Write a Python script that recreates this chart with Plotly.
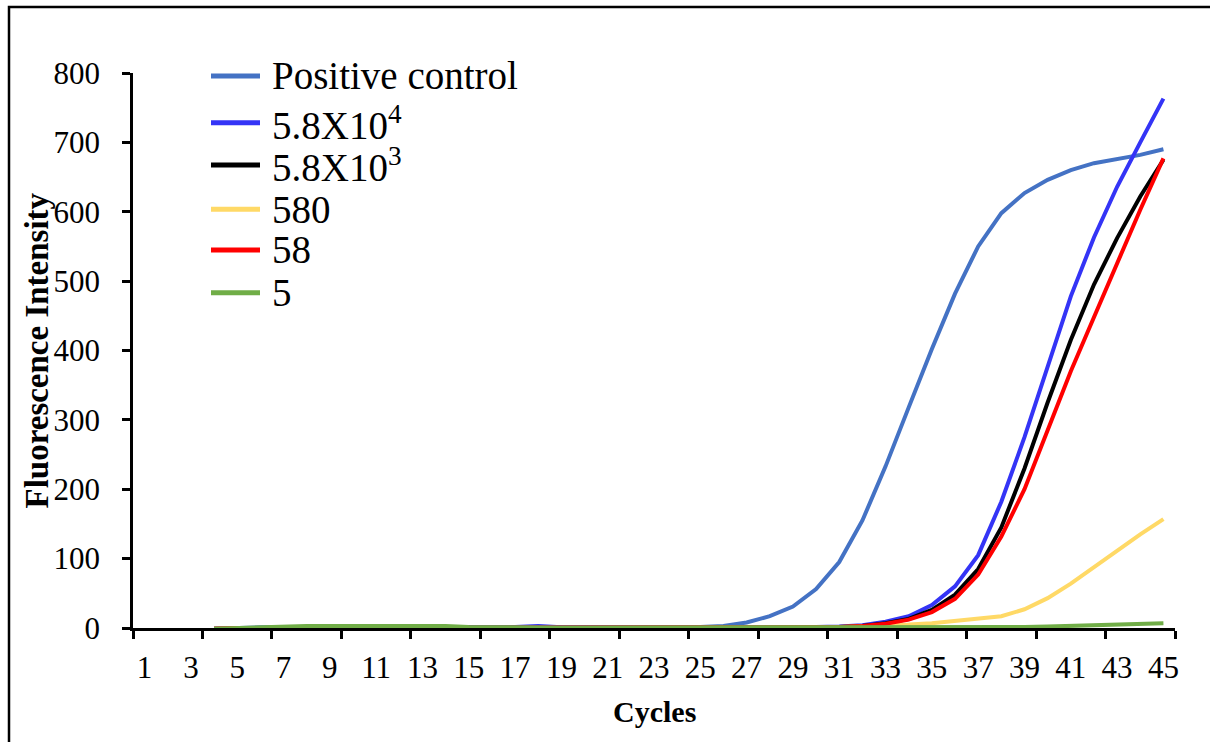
import plotly.graph_objects as go

# ---------------- data ----------------
cycles = list(range(4, 46))
tick_cycles = list(range(1, 46, 2))
series_names = ["Positive control", "5.8X10<sup>4</sup>", "5.8X10<sup>3</sup>", "580", "58", "5"]

positive_control = [-1, 0.5, 1, 1.5, 1.5, 1.5, 1.5, 1, 1, 1, 1, 0.5, 0.5, 0.5, 0.5, 0.5, 0.5, 0.5, 0.5, 0.5,
                    1, 1.5, 3, 8, 17, 31, 56, 95, 155, 233, 318, 402, 482, 550, 598, 627, 646, 660, 670, 676, 682, 690]
dilution_58e4 = [-1] + [0] * 11 + [1, 1.5, 3, 1] + [0.5] * 9 + \
                [1, 1.5, 2, 4, 9, 17, 33, 60, 105, 182, 275, 378, 478, 563, 636, 700, 763]
dilution_58e3 = [-1] + [0] * 24 + \
                [0.5, 1, 1.5, 3, 7, 13, 26, 48, 85, 145, 230, 325, 415, 495, 562, 622, 675]
dilution_580 = [-1] + [0] * 23 + \
               [0.5, 1, 1, 1.5, 2.5, 3.5, 5, 7, 10, 13, 17, 27, 43, 64, 88, 112, 135, 157]
dilution_58 = [-1] + [0] * 12 + [1, 1, 1, 0.5, 0.5, 1, 1] + [0.3] * 4 + \
              [1, 0.5, 1, 1.5, 3, 6, 12, 23, 42, 77, 132, 200, 284, 370, 448, 526, 603, 677]
dilution_5 = [-1, 0, 1.5, 3, 3, 3, 3, 3, 4, 3, 3, 1.5, 1] + [0.5] * 20 + \
             [0.5, 1, 1.5, 2, 3, 4, 5, 5.5, 7]

series_values = [positive_control, dilution_58e4, dilution_58e3, dilution_580, dilution_58, dilution_5]
series_colors = ["#4472C4", "#3434F6", "#000000", "#FFD966", "#FF0000", "#70AD47"]

# ---------------- geometry helpers ----------------
W, H = 1210, 742
L, R, T, B = 133, 35, 73, 114
PW, PH = W - L - R, H - T - B


def px(xp):
    return (xp - L) / PW


def py(yp):
    return (H - B - yp) / PH


FONT = "Liberation Serif"

fig = go.Figure()
for name, vals, col in zip(series_names, series_values, series_colors):
    fig.add_trace(go.Scatter(x=cycles, y=vals, mode="lines", name=name,
                             line=dict(color=col, width=4), showlegend=False,
                             hoverinfo="skip"))

# custom legend
legend_y = [76, 122.7, 165, 209.3, 250, 292.7]
shapes = []
annotations = []
for name, col, yy in zip(series_names, series_colors, legend_y):
    shapes.append(dict(type="line", xref="paper", yref="paper",
                       x0=px(211), x1=px(260), y0=py(yy), y1=py(yy),
                       line=dict(color=col, width=5)))
    annotations.append(dict(text=name, xref="paper", yref="paper", x=px(270), y=py(yy),
                            xanchor="left", yanchor="middle", showarrow=False,
                            font=dict(family=FONT, size=39, color="black")))

# outer frame
shapes.append(dict(type="rect", xref="paper", yref="paper",
                   x0=px(9), x1=px(1225), y0=py(760), y1=py(7),
                   line=dict(color="black", width=2.5), fillcolor="rgba(0,0,0,0)", layer="above"))

annotations.append(dict(text="Fluorescence Intensity", xref="paper", yref="paper",
                        x=px(36), y=0.5, xanchor="center", yanchor="middle", textangle=-90,
                        showarrow=False, font=dict(family=FONT, size=33, color="black", weight="bold")))
annotations.append(dict(text="Cycles", xref="paper", yref="paper",
                        x=px(654), y=py(711), xanchor="center", yanchor="middle",
                        showarrow=False, font=dict(family=FONT, size=30, color="black", weight="bold")))

fig.update_layout(
    width=W, height=H,
    margin=dict(l=L, r=R, t=T, b=B, autoexpand=False),
    paper_bgcolor="white", plot_bgcolor="white",
    shapes=shapes, annotations=annotations,
    showlegend=False,
    xaxis=dict(range=[0.5, 45.5], tickmode="array", tickvals=tick_cycles,
               ticktext=[str(c) for c in tick_cycles], ticks="",
               showline=True, linecolor="black", linewidth=2.5,
               showgrid=False, zeroline=False, automargin=False,
               tickfont=dict(family=FONT, size=31, color="black"),
               ticklabelstandoff=10,
               minor=dict(ticks="outside", tick0=0.5, dtick=3, ticklen=8,
                          tickwidth=2.5, tickcolor="black", showgrid=False)),
    yaxis=dict(range=[0, 800], dtick=100, ticks="outside", ticklen=8, tickwidth=2.5,
               tickcolor="black", showline=True, linecolor="black", linewidth=2.5,
               showgrid=False, zeroline=False, automargin=False,
               tickfont=dict(family=FONT, size=31, color="black"),
               ticklabelstandoff=16),
)

fig.write_html("out.html", config={"displayModeBar": False},
               post_script="document.body.style.margin='0';document.body.style.overflow='hidden';")
